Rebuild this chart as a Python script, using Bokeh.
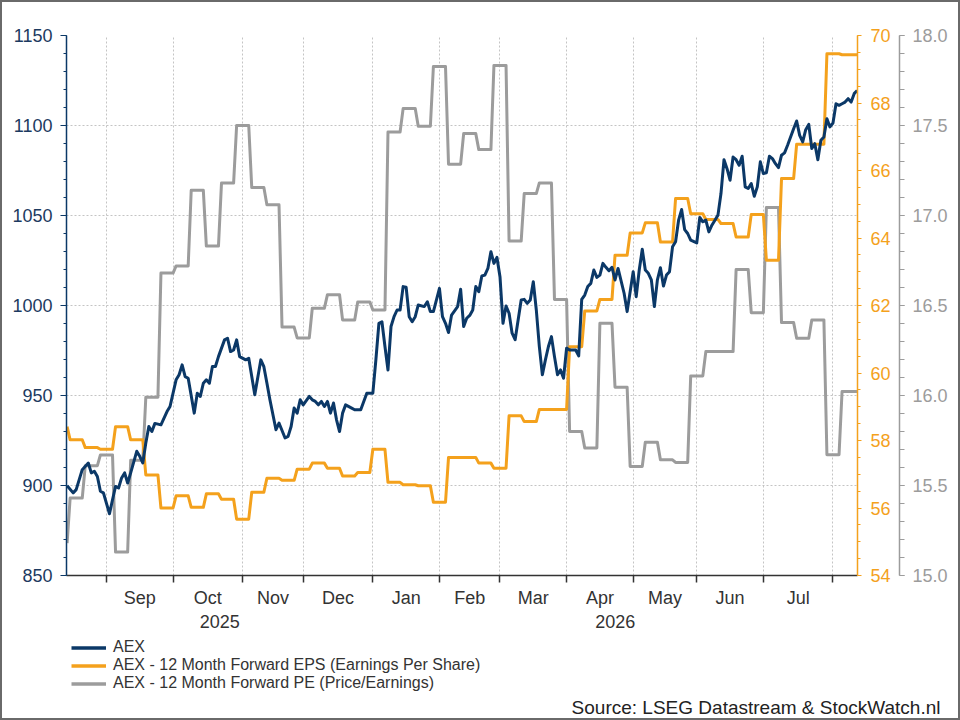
import numpy as np
import pandas as pd
from bokeh.plotting import figure
from bokeh.layouts import column
from bokeh.models import (Range1d, LinearAxis, FixedTicker, SingleIntervalTicker, Legend,
                          LegendItem, Label, NumeralTickFormatter, ColumnDataSource, Grid)
from bokeh.embed import file_html
from bokeh.resources import INLINE

# ---------------- data ----------------
start_date = "2025-08-13"
n_days = 262

aex_bday = [0, 2, 3, 5, 7, 8, 9, 10, 11, 12, 14, 15, 16, 17, 18, 19, 20, 21, 23, 24, 25, 26, 27, 28, 29,
            31, 33, 34, 36, 37, 38, 39, 40, 42, 43, 44, 45, 46, 47, 48, 49, 50, 52, 53, 54, 55, 56, 57,
            59, 60, 62, 64, 65, 66, 67, 69, 70, 72, 73, 74, 75, 76, 77, 78, 80, 81, 82, 83, 84, 85, 86,
            87, 88, 89, 90, 91, 92, 94, 95, 97, 99, 101, 102, 103, 104, 105, 106, 107, 108, 109, 110,
            111, 112, 113, 114, 115, 116, 118, 119, 120, 121, 123, 124, 125, 126, 127, 129, 130, 131,
            132, 133, 134, 135, 136, 137, 138, 139, 140, 141, 142, 143, 144, 145, 146, 147, 148, 150,
            151, 152, 153, 154, 155, 156, 157, 158, 159, 160, 161, 162, 163, 164, 165, 166, 167, 168,
            169, 170, 171, 172, 173, 174, 175, 176, 177, 178, 179, 180, 181, 182, 184, 185, 187, 188,
            189, 190, 191, 192, 193, 194, 195, 196, 197, 198, 199, 200, 201, 202, 203, 204, 205, 206,
            208, 209, 210, 211, 212, 213, 214, 215, 216, 217, 218, 219, 220, 221, 222, 223, 224, 225,
            226, 227, 228, 229, 230, 231, 232, 233, 234, 235, 236, 237, 238, 240, 241, 242, 243, 244,
            245, 246, 247, 248, 249, 250, 251, 252, 253, 254, 255, 256, 257, 258, 259, 260, 261]

aex_value = [899.9, 895.9, 897.7, 908.8, 912.5, 907.0, 907.9, 905.0, 896.8, 895.9, 884.3, 892.1, 899.5,
             898.6, 904.2, 907.0, 901.4, 907.0, 919.0, 916.2, 912.5, 923.6, 932.8, 930.0, 934.5,
             933.7, 941.1, 943.9, 958.7, 961.5, 967.0, 960.5, 959.6, 940.2, 951.3, 949.5, 956.8,
             958.7, 956.8, 966.1, 966.1, 971.6, 980.9, 981.8, 974.4, 975.3, 980.9, 971.6,
             969.8, 970.7, 950.4, 969.8, 966.0, 956.9, 947.6, 931.0, 934.7, 926.4, 927.3, 932.8,
             943.0, 940.2, 947.6, 944.8, 949.5, 947.6, 946.7, 944.8, 946.7, 943.9, 946.7,
             940.2, 945.8, 936.5, 930.0, 940.2, 944.8, 943.0, 942.1, 942.1, 951.3, 951.3, 969.8,
             990.1, 991.0, 977.2, 964.2, 988.3, 993.8, 997.5, 997.5,
             1010.5, 1010.1, 993.8, 991.0, 993.8, 1000.3, 999.4, 1002.1, 996.6, 996.6, 1009.5,
             993.8, 990.1, 985.0, 994.7, 999.4, 1009.0, 988.3,
             992.9, 994.5, 997.5, 1010.5, 1007.7, 1016.4, 1016.9, 1020.6, 1029.9, 1023.4, 1026.7,
             1016.0, 990.1, 999.7, 995.7, 984.6, 981.0, 1003.1,
             1003.4, 1001.2, 1003.1, 1013.2, 997.5, 977.2, 961.5, 969.8, 977.2, 982.7, 971.6,
             961.5, 964.2, 959.6, 976.3, 975.3, 975.3, 975.3,
             972.0, 1003.4, 1005.8, 1010.5, 1012.3, 1019.7, 1015.6, 1016.9, 1023.4, 1021.2, 1019.3,
             1021.2, 1014.2, 1020.6, 1006.8, 996.6, 1018.8, 1004.9,
             1019.7, 1031.2, 1019.7, 1017.9, 1014.2, 999.4, 1014.2, 1021.0, 1010.8, 1016.9, 1018.8,
             1032.6, 1035.4, 1047.4, 1053.3, 1042.2, 1040.0, 1036.3,
             1034.8, 1048.9, 1046.5, 1047.4, 1040.9, 1044.6, 1047.4, 1050.2, 1062.2, 1081.0, 1076.0,
             1069.6, 1082.5, 1081.0, 1077.9, 1082.9, 1065.9, 1065.0,
             1067.7, 1060.7, 1065.9, 1079.8, 1073.3, 1073.7, 1082.9, 1081.6, 1078.8, 1076.6, 1083.5,
             1084.8, 1089.0, 1098.2, 1102.5, 1094.5, 1090.9, 1097.7,
             1100.6, 1087.2, 1089.9, 1081.0, 1091.8, 1093.6, 1103.8, 1099.2, 1101.4, 1112.1, 1111.2,
             1112.1, 1113.0, 1114.9, 1113.0, 1117.7, 1119.5]

# weekly values (the series is updated once a week)
eps_weekly = [58.41, 58.02, 57.79, 57.74, 58.41, 58.02, 56.98, 56.00, 56.36, 56.02, 56.42, 56.26,
              55.67, 56.47, 56.88, 56.82, 57.15, 57.33, 57.18, 56.95, 57.05, 57.74, 56.76, 56.69,
              56.66, 56.17, 57.50, 57.50, 57.33, 57.18, 58.73, 58.56, 58.92, 58.92, 60.78, 61.84,
              62.18, 63.49, 64.15, 64.45, 63.88, 65.17, 64.72, 64.55, 64.43, 64.03, 64.70, 63.34,
              65.76, 66.78, 66.78, 69.46, 69.43, 69.43]

pe_weekly = [15.18, 15.43, 15.61, 15.67, 15.13, 15.64, 15.99, 16.68, 16.72, 17.14, 16.83, 17.18,
             17.50, 17.155, 17.06, 16.38, 16.32, 16.485, 16.56, 16.42, 16.52, 16.475, 17.464, 17.594,
             17.496, 17.828, 17.285, 17.455, 17.366, 17.834, 16.858, 17.122, 17.181, 16.534, 15.80,
             15.708, 16.401, 16.046, 15.606, 15.74, 15.643, 15.628, 16.109, 16.244, 16.244, 16.70,
             16.46, 17.044, 16.405, 16.318, 16.42, 15.671, 16.022, 16.022]

series_names = ["AEX",
                "AEX - 12 Month Forward EPS (Earnings Per Share)",
                "AEX - 12 Month Forward PE (Price/Earnings)"]
source_text = "Source: LSEG Datastream & StockWatch.nl"

# ---------------- derived ----------------
dates = pd.bdate_range(start_date, periods=n_days)
day_idx = np.arange(n_days)
week_of_day = np.where(day_idx == 0, 0, (day_idx + 4) // 5)
eps_daily = np.array(eps_weekly)[week_of_day]
pe_daily = np.array(pe_weekly)[week_of_day]

month_starts = [i for i in range(1, n_days) if dates[i].month != dates[i - 1].month]
month_mid = [(a + b) / 2 for a, b in zip(month_starts[:-1], month_starts[1:])]
month_lbl = [dates[a].strftime("%b") for a in month_starts[:-1]]

x_start, x_end = -0.2, 261.1
jan_idx = [i for i in month_starts if dates[i].month == 1][0]
year_pos = [(x_start + jan_idx) / 2, (jan_idx + x_end) / 2]
year_lbl = [str(dates[0].year), str(dates[jan_idx].year)]

NAVY = "#0b3867"
ORANGE = "#f4a11c"
GREY = "#9c9c9c"
FONT = "Liberation Sans"

W = 956
H1 = 628
H2 = 88

p = figure(width=W, height=H1, output_backend="svg", toolbar_location=None,
           x_range=Range1d(x_start, x_end), y_range=Range1d(850, 1150),
           x_axis_type=None, y_axis_type=None,
           min_border_left=64, min_border_right=101, min_border_top=33, min_border_bottom=54)
p.frame_align = False
p.outline_line_color = None
p.background_fill_color = "white"
p.border_fill_color = "white"
p.extra_y_ranges = {"eps": Range1d(54, 70), "pe": Range1d(15, 18)}

# grids
p.add_layout(Grid(dimension=0, ticker=FixedTicker(ticks=month_starts),
                  grid_line_color="#c4c4c4", grid_line_dash="2 2", grid_line_width=1))
p.add_layout(Grid(dimension=1, ticker=SingleIntervalTicker(interval=50),
                  grid_line_color="#c4c4c4", grid_line_dash="2 2", grid_line_width=1))

# left axis
yaxis = LinearAxis(ticker=SingleIntervalTicker(interval=50, num_minor_ticks=5),
                   axis_line_color=NAVY, axis_line_width=1.5,
                   major_tick_line_color=NAVY, minor_tick_line_color=NAVY,
                   major_tick_out=6, major_tick_in=0, minor_tick_out=3, minor_tick_in=0,
                   major_label_text_color="#1c3a60", major_label_text_font=FONT,
                   major_label_text_font_size="18px", major_label_standoff=8)
p.add_layout(yaxis, "left")

# right axes
eps_axis = LinearAxis(y_range_name="eps", ticker=SingleIntervalTicker(interval=2, num_minor_ticks=4),
                      axis_line_color=ORANGE, axis_line_width=1.5,
                      major_tick_line_color=ORANGE, minor_tick_line_color=ORANGE,
                      major_tick_out=4, major_tick_in=0, minor_tick_out=3, minor_tick_in=0,
                      major_label_text_color=ORANGE, major_label_text_font=FONT,
                      major_label_text_font_size="18px", major_label_standoff=9,
                      axis_label=" ", axis_label_standoff=2, axis_label_text_font_size="1px")
p.add_layout(eps_axis, "right")

pe_axis = LinearAxis(y_range_name="pe", ticker=SingleIntervalTicker(interval=0.5, num_minor_ticks=5),
                     formatter=NumeralTickFormatter(format="0.0"),
                     axis_line_color=GREY, axis_line_width=1.5,
                     major_tick_line_color=GREY, minor_tick_line_color=GREY,
                     major_tick_out=5, major_tick_in=0, minor_tick_out=5, minor_tick_in=0,
                     major_label_text_color=GREY, major_label_text_font=FONT,
                     major_label_text_font_size="18px", major_label_standoff=8)
p.add_layout(pe_axis, "right")

# bottom axes
xaxis = LinearAxis(ticker=FixedTicker(ticks=month_mid, minor_ticks=month_starts),
                   major_label_overrides={m: l for m, l in zip(month_mid, month_lbl)},
                   axis_line_color="#333333", axis_line_width=1.5,
                   major_tick_line_color=None, major_tick_out=0, major_tick_in=0,
                   minor_tick_line_color="#333333", minor_tick_line_width=1.5,
                   minor_tick_out=7, minor_tick_in=0,
                   major_label_text_color="#333333", major_label_text_font=FONT,
                   major_label_text_font_size="18px", major_label_standoff=5)
p.add_layout(xaxis, "below")

year_axis = LinearAxis(ticker=FixedTicker(ticks=year_pos, minor_ticks=[]),
                       major_label_overrides={v: l for v, l in zip(year_pos, year_lbl)},
                       axis_line_color=None, major_tick_line_color=None, minor_tick_line_color=None,
                       major_tick_out=0, major_tick_in=0,
                       major_label_text_color="#333333", major_label_text_font=FONT,
                       major_label_text_font_size="18px", major_label_standoff=4)
p.add_layout(year_axis, "below")

# series
src = ColumnDataSource(dict(x=day_idx, eps=eps_daily, pe=pe_daily))
aex_src = ColumnDataSource(dict(x=aex_bday, y=aex_value))
p.line("x", "pe", source=src, y_range_name="pe", line_color=GREY, line_width=3, line_join="round")
p.line("x", "eps", source=src, y_range_name="eps", line_color=ORANGE, line_width=3, line_join="round")
p.line("x", "y", source=aex_src, line_color=NAVY, line_width=3, line_join="round")

# ---------------- footer: legend + source ----------------
f = figure(width=W, height=H2, output_backend="svg", toolbar_location=None,
           x_range=Range1d(x_start, x_end), y_range=Range1d(0, 1),
           x_axis_type=None, y_axis_type=None,
           min_border_left=0, min_border_right=0, min_border_top=0, min_border_bottom=0)
f.frame_align = False
f.outline_line_color = None
f.grid.visible = False
f.background_fill_color = "white"
f.border_fill_color = "white"
# legend swatches reuse the series' styles (their data lies outside this strip's y range)
f.extra_y_ranges = {"off": Range1d(5000, 6000)}
lr_aex = f.line("x", "y", source=aex_src, y_range_name="off", line_color=NAVY, line_width=3.5)
lr_eps = f.line("x", "eps", source=src, y_range_name="off", line_color=ORANGE, line_width=3.5)
lr_pe = f.line("x", "pe", source=src, y_range_name="off", line_color=GREY, line_width=3.5)

legend = Legend(items=[LegendItem(label=series_names[0], renderers=[lr_aex]),
                       LegendItem(label=series_names[1], renderers=[lr_eps]),
                       LegendItem(label=series_names[2], renderers=[lr_pe])],
                location=(69, 26), orientation="vertical",
                padding=0, margin=0, spacing=-1, label_height=17, glyph_height=17, glyph_width=35,
                label_standoff=7, label_text_font=FONT, label_text_font_size="16px",
                label_text_color="#333333", border_line_color=None, background_fill_alpha=0)
f.add_layout(legend, "center")

f.add_layout(Label(x=938, y=11, x_units="screen", y_units="screen", text=source_text,
                   text_align="right", text_baseline="middle", text_font=FONT,
                   text_font_size="19px", text_color="#222222"))

page = column(p, f, spacing=0, styles={"border": "2px solid #6a6a6a", "background-color": "white"})

open("out.html", "w").write(file_html(page, INLINE))
